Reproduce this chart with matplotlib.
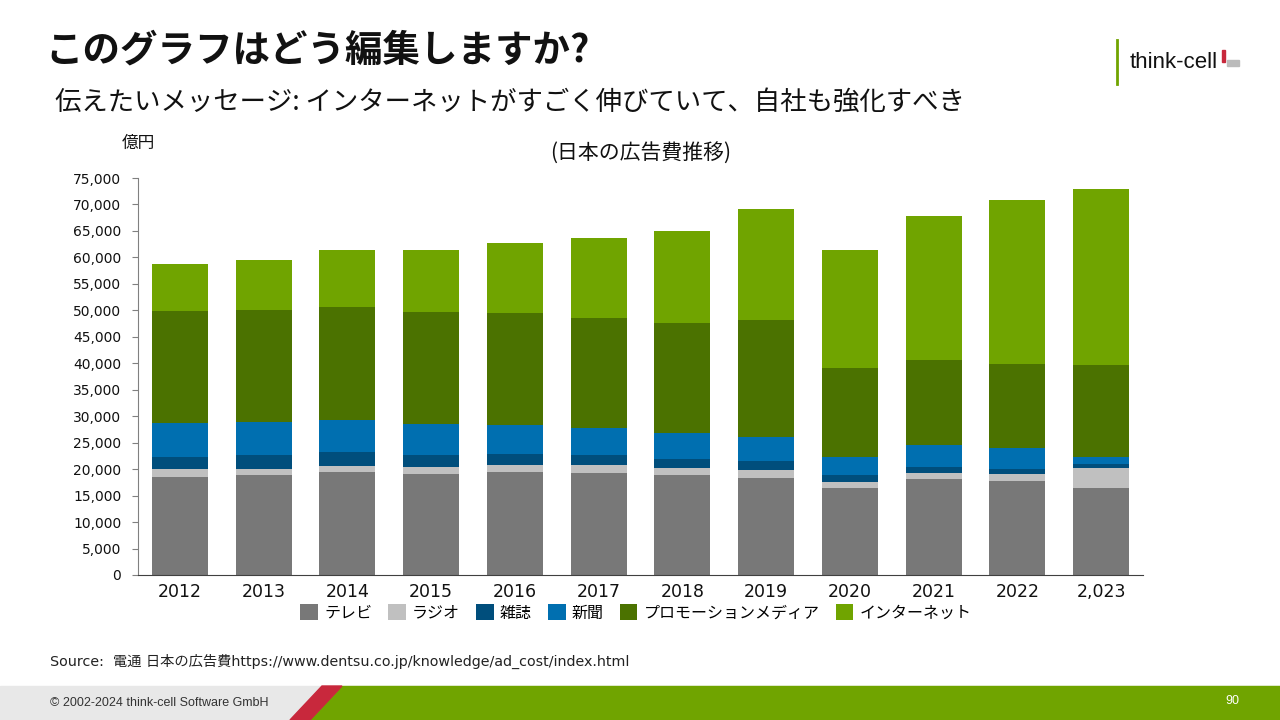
import numpy as np
import matplotlib
matplotlib.use("Agg")
import matplotlib.pyplot as plt
from matplotlib.patches import Rectangle, Polygon

plt.rcParams['font.family'] = ['DejaVu Sans', 'Noto Sans CJK JP']
JP = ['Noto Sans CJK JP', 'DejaVu Sans']

# data (億円)
years = ["2012", "2013", "2014", "2015", "2016", "2017", "2018", "2019", "2020", "2021", "2022", "2,023"]
tv = [18570, 18840, 19400, 19140, 19400, 19270, 18950, 18330, 16440, 18190, 17820, 16490]
radio = [1400, 1240, 1250, 1260, 1440, 1460, 1270, 1450, 1070, 1140, 1260, 3670]
magazine = [2380, 2530, 2590, 2330, 2020, 1880, 1750, 1700, 1330, 1130, 950, 870]
newspaper = [6310, 6240, 6040, 5800, 5480, 5220, 4860, 4540, 3510, 4040, 3910, 1320]
promo = [21270, 21220, 21410, 21210, 21160, 20780, 20720, 22160, 16700, 16120, 15920, 17320]
internet = [8770, 9440, 10660, 11720, 13170, 15120, 17500, 20970, 22300, 27210, 30990, 33260]

series = [tv, radio, magazine, newspaper, promo, internet]
names = ["テレビ", "ラジオ", "雑誌", "新聞", "プロモーションメディア", "インターネット"]
colors = ["#787878", "#c0c0c0", "#004e7c", "#006fb0", "#4b7200", "#70a400"]

fig = plt.figure(figsize=(12.8, 7.2), dpi=100)
ax = fig.add_axes([138 / 1280, 1 - 575 / 720, (1143 - 138) / 1280, (575 - 178) / 720])

x = np.arange(len(years))
bottom = np.zeros(len(years))
handles = []
for vals, name, col in zip(series, names, colors):
	b = ax.bar(x, vals, 0.67, bottom=bottom, color=col, label=name, linewidth=0)
	handles.append(b)
	bottom += np.array(vals)

ax.set_xlim(-0.5, 11.5)
ax.set_ylim(0, 75000)
ax.set_yticks(np.arange(0, 75001, 5000))
ax.set_yticklabels([f"{v:,}" for v in range(0, 75001, 5000)], fontsize=10, color="#111111")
ax.set_xticks(x)
ax.set_xticklabels(years, fontsize=12.5, color="#111111")
ax.tick_params(axis='x', length=0, pad=6)
ax.tick_params(axis='y', length=4, width=0.8, color="#808080", pad=8)
for s in ['top', 'right']:
	ax.spines[s].set_visible(False)
ax.spines['left'].set_color("#808080")
ax.spines['bottom'].set_color("#404040")

# titles
fig.text(45 / 1280, 1 - 50 / 720, "このグラフはどう編集しますか?", family=JP, fontsize=27,
	fontweight='bold', va='center', ha='left', color="#111111")
fig.text(55 / 1280, 1 - 102 / 720, "伝えたいメッセージ: インターネットがすごく伸びていて、自社も強化すべき",
	family=JP, fontsize=19, va='center', ha='left', color="#111111")
fig.text(138 / 1280, 1 - 143 / 720, "億円", family=JP, fontsize=12, va='center', ha='center', color="#111111")
fig.text(641 / 1280, 1 - 154 / 720, "(日本の広告費推移)", family=JP, fontsize=15, va='center', ha='center', color="#111111")

leg = fig.legend(handles=handles, labels=names, loc='center', bbox_to_anchor=(636 / 1280, 1 - 613 / 720),
	ncol=6, frameon=False, handlelength=1.1, handleheight=1.1, handletextpad=0.4, columnspacing=1.0,
	prop={'family': JP, 'size': 11.5})

fig.text(50 / 1280, 1 - 661 / 720, "Source:  電通 日本の広告費https://www.dentsu.co.jp/knowledge/ad_cost/index.html",
	family=['DejaVu Sans', 'Noto Sans CJK JP'], fontsize=10.3, va='center', ha='left', color="#222222")

# logo
fig.add_artist(plt.Line2D([1117 / 1280, 1117 / 1280], [1 - 40 / 720, 1 - 84 / 720], color="#70a400", lw=2))
fig.text(1130 / 1280, 1 - 62 / 720, "think-cell", family='Liberation Sans', fontsize=16, va='center', ha='left', color="#111111")
fig.add_artist(Rectangle((1222 / 1280, 1 - 62 / 720), 3 / 1280, 12 / 720, transform=fig.transFigure, color="#c8283c"))
fig.add_artist(Rectangle((1227 / 1280, 1 - 66 / 720), 12 / 1280, 6 / 720, transform=fig.transFigure, color="#bbbbbb"))

# footer band
h = 34 / 720
fig.add_artist(Rectangle((0, 0), 1, h, transform=fig.transFigure, color="#e8e8e8", zorder=0))
fig.add_artist(Polygon([(310 / 1280, 0), (1, 0), (1, h), (342 / 1280, h)], transform=fig.transFigure,
	color="#70a400", zorder=1))
fig.add_artist(Polygon([(290 / 1280, 0), (310 / 1280, 0), (342 / 1280, h), (322 / 1280, h)],
	transform=fig.transFigure, color="#c8283c", zorder=1))
fig.text(50 / 1280, 1 - 703 / 720, "© 2002-2024 think-cell Software GmbH", family='Liberation Sans',
	fontsize=9, va='center', ha='left', color="#333333")
fig.text(1232 / 1280, 1 - 701 / 720, "90", family='Liberation Sans', fontsize=9, va='center', ha='center', color="white")

fig.savefig("out.png", dpi=100)
